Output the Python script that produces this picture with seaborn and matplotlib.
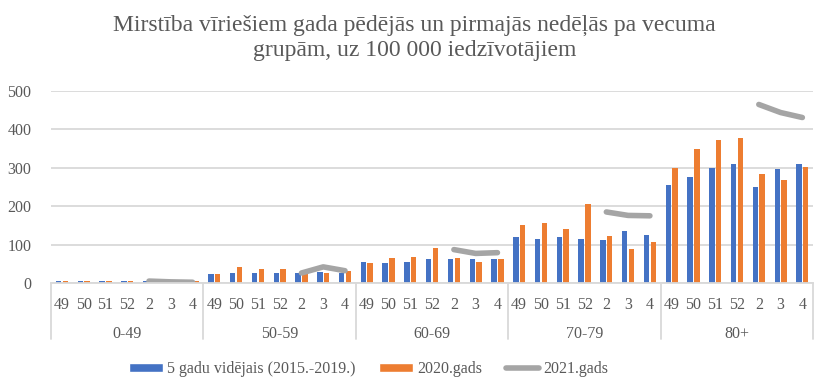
import pandas as pd
import matplotlib.pyplot as plt
import matplotlib.patches as mpatches
import matplotlib.lines as mlines
import matplotlib.transforms as mtransforms
import seaborn as sns

# Data
age_groups = ['0-49', '50-59', '60-69', '70-79', '80+']
weeks = ['49', '50', '51', '52', '2', '3', '4']

avg_5y = [
    4, 4, 4, 6, 4, 4, 4,
    23, 25, 25, 25, 25, 28, 25,
    54, 51, 54, 62, 62, 62, 62,
    119, 114, 119, 114, 111, 135, 124,
    254, 275, 299, 309, 249, 296, 309,
]
y2020 = [
    4, 6, 4, 4, 4, 4, 4,
    23, 41, 36, 36, 25, 25, 30,
    51, 64, 67, 90, 64, 54, 62,
    150, 155, 140, 207, 122, 88, 106,
    299, 348, 372, 377, 283, 267, 301,
]
# 2021 only has weeks 2, 3, 4
y2021 = {
    '0-49': [5, 3, 2],
    '50-59': [26, 42, 32],
    '60-69': [87, 77, 79],
    '70-79': [185, 176, 175],
    '80+': [465, 444, 431],
}

BLUE = '#4472C4'
ORANGE = '#ED7D31'
GRAY = '#A5A5A5'
TXT = '#595959'
GRID = '#D9D9D9'

sns.set_theme(style='white')
plt.rcParams['font.family'] = ['Liberation Serif', 'DejaVu Serif']

keys = [f'{g}|{w}' for g in age_groups for w in weeks]
df = pd.DataFrame({
    'key': keys * 2,
    'value': avg_5y + y2020,
    'series': ['5 gadu vidējais (2015.-2019.)'] * len(keys) + ['2020.gads'] * len(keys),
})

rows = []
for g in age_groups:
    for w, v in zip(['2', '3', '4'], y2021[g]):
        rows.append({'group': g, 'pos': keys.index(f'{g}|{w}'), 'value': v})
df21 = pd.DataFrame(rows)

fig = plt.figure(figsize=(8.29, 3.89), dpi=100)
ax = fig.add_axes([0.0615, 0.2725, 0.9195, 0.4935])

sns.barplot(data=df, x='key', y='value', hue='series', order=keys,
            palette=[BLUE, ORANGE], width=0.62, gap=0.2, saturation=1,
            linewidth=0, legend=False, ax=ax)
sns.lineplot(data=df21, x='pos', y='value', units='group', estimator=None,
             color=GRAY, linewidth=4, solid_capstyle='round', legend=False, ax=ax)

ax.set_xlim(-0.5, len(keys) - 0.5)
ax.set_ylim(0, 500)
ax.set_yticks(range(0, 501, 100))
ax.yaxis.grid(True, color=GRID, linewidth=1.3)
ax.set_axisbelow(True)
for s in ['top', 'right', 'left']:
    ax.spines[s].set_visible(False)
ax.spines['bottom'].set_color(GRID)
ax.spines['bottom'].set_linewidth(1.3)
ax.set_xlabel('')
ax.set_ylabel('')

ax.set_xticks(range(len(keys)))
ax.set_xticklabels([k.split('|')[1] for k in keys])
ax.tick_params(axis='x', length=0, pad=10, labelsize=11.5, colors=TXT)
ax.tick_params(axis='y', length=0, pad=14, labelsize=11.5, colors=TXT)

# hierarchical axis: group names and separators
trans = mtransforms.blended_transform_factory(ax.transData, ax.transAxes)
n = len(weeks)
for i, g in enumerate(age_groups):
    ax.text(i * n + (n - 1) / 2, -0.265, g, transform=trans, ha='center',
            va='center', fontsize=11.5, color=TXT)
for i in range(len(age_groups) + 1):
    x = i * n - 0.5
    ax.plot([x, x], [0, -0.29], transform=trans, color=GRID, linewidth=1.3,
            clip_on=False)

fig.text(0.5, 0.903, 'Mirstība vīriešiem gada pēdējās un pirmajās nedēļās pa vecuma\n'
         'grupām, uz 100 000 iedzīvotājiem', ha='center', va='center',
         fontsize=17, color=TXT, linespacing=1.25)

handles = [
    mpatches.Patch(facecolor=BLUE, label='5 gadu vidējais (2015.-2019.)'),
    mpatches.Patch(facecolor=ORANGE, label='2020.gads'),
    mlines.Line2D([], [], color=GRAY, linewidth=4, label='2021.gads'),
]
fig.legend(handles=handles, loc='center', bbox_to_anchor=(0.445, 0.052), ncol=3,
           frameon=False, fontsize=11.5, handlelength=2.1, handleheight=0.5,
           columnspacing=1.5, handletextpad=0.25, labelcolor=TXT)

fig.savefig('out.png', dpi=100)
